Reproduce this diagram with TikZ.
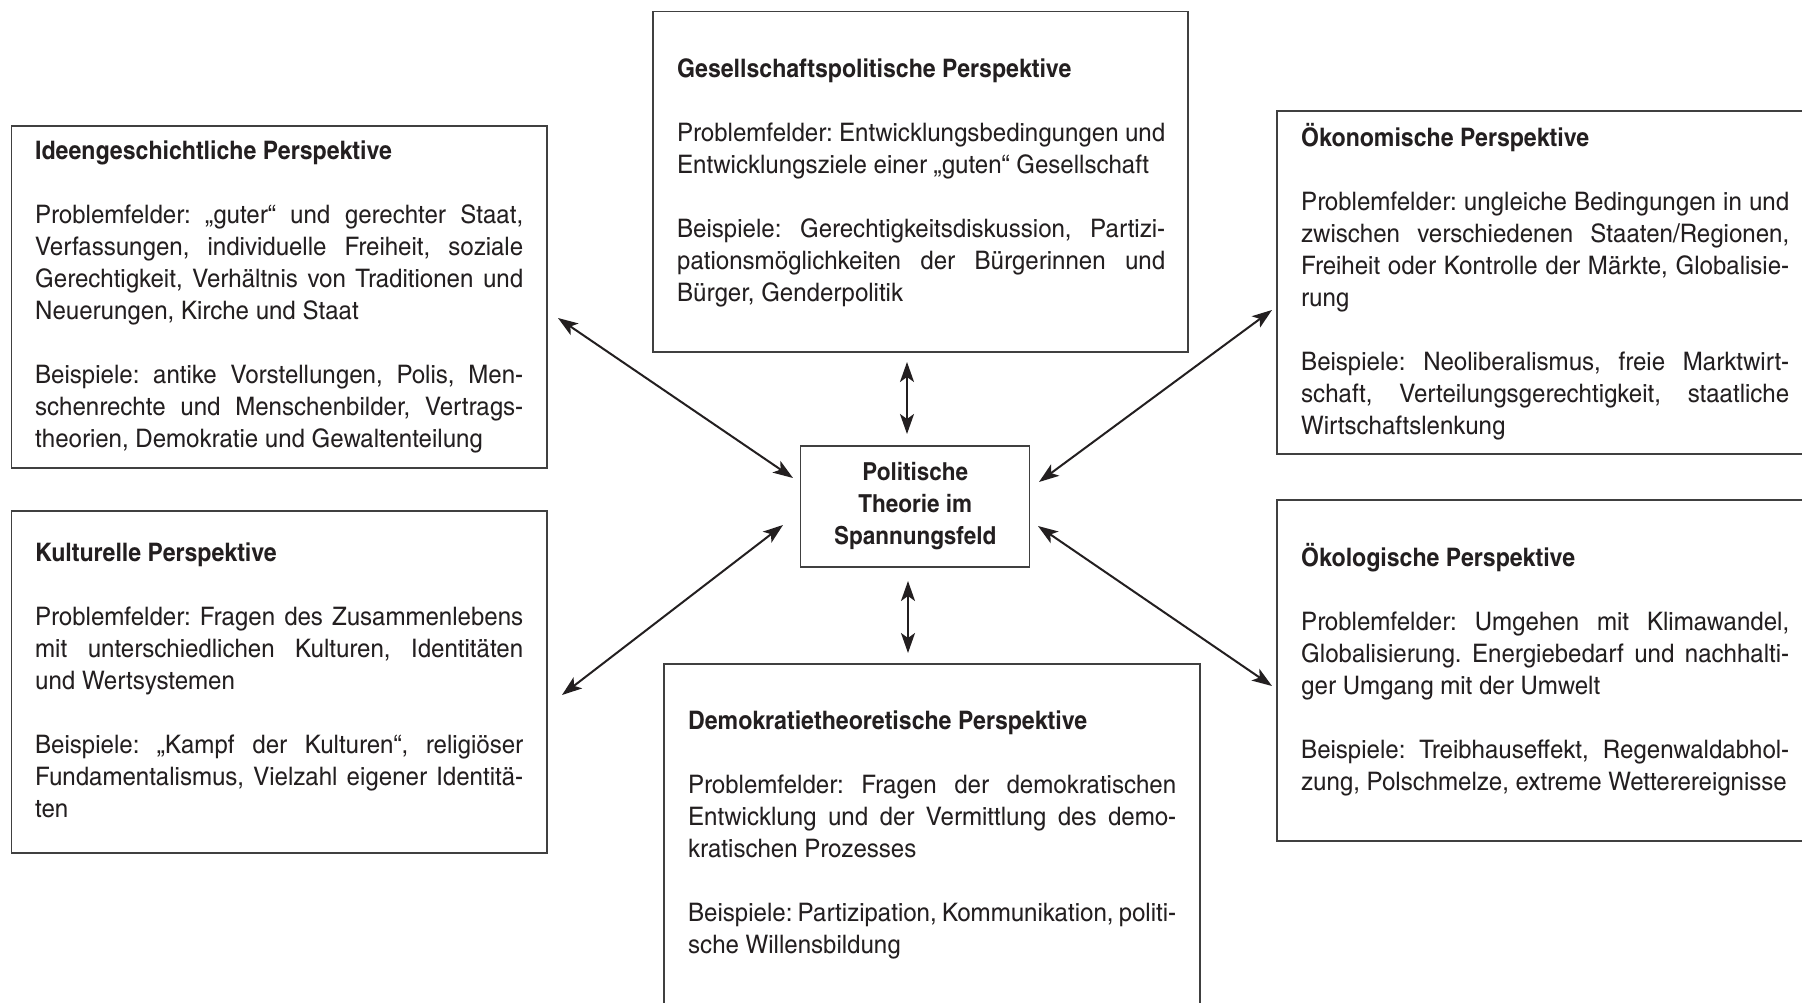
\documentclass[tikz,border=0pt]{standalone}
\usepackage{fontspec}
\setmainfont{texgyreheroscn-regular.otf}[UprightFeatures={FakeStretch=1.15}, BoldFont=texgyreheroscn-bold.otf, BoldFeatures={FakeStretch=1.105}]
\usetikzlibrary{arrows.meta}
\definecolor{ink}{HTML}{231F20}
\definecolor{frame}{HTML}{404040}
\tolerance=10000
\hbadness=10000
\frenchspacing
\newcommand{\bodyfont}{\fontsize{25.5}{32}\selectfont\setlength{\parindent}{0pt}\frenchspacing}
\newcommand{\centerfont}{\fontsize{24.8}{32}\selectfont\bfseries}
\tikzset{
  box/.style={draw=frame, line width=1.4pt, inner sep=0pt, fill=none},
  bodytext/.style={anchor=base west, inner sep=0pt, text width=488pt, align=justify, text=ink, font=\bodyfont},
  centertext/.style={draw=frame, line width=1.4pt, inner sep=0pt, align=center, text=ink, font=\centerfont},
  link/.style={draw=ink, line width=2pt, {Stealth[length=20pt,width=14pt,inset=5pt]}-{Stealth[length=20pt,width=14pt,inset=5pt]}}
}
\newcommand{\gap}{\par\vskip32pt}
\begin{document}
\begin{tikzpicture}[x=1pt,y=-1pt]
\fill[white] (0,0) rectangle (1802,1002);
\clip (0,0) rectangle (1802,1002);
% boxes
\node[box, minimum width=535.5pt, minimum height=342pt] (b1) at (279.25,297) {};
\node[box, minimum width=535pt, minimum height=340.5pt] (b2) at (920.5,181.75) {};
\node[box, minimum width=536pt, minimum height=343pt] (b3) at (1545,282.5) {};
\node[box, minimum width=535.5pt, minimum height=342pt] (b4) at (279.25,682) {};
\node[box, minimum width=536pt, minimum height=346pt] (b5) at (932,837) {};
\node[box, minimum width=536pt, minimum height=341pt] (b6) at (1545,670.5) {};
\node[centertext, minimum width=229pt, minimum height=121pt] (c) at (915.2,506.5) {Politische\\Theorie im\\Spannungsfeld};
% texts
\node[bodytext] (t1) at (35,159.5) {\textbf{Ideengeschichtliche Perspektive}\gap
Problemfelder: „guter“ und gerechter Staat,\linebreak Verfassungen, individuelle Freiheit, soziale\linebreak Gerechtigkeit, Verhältnis von Traditionen und\linebreak Neuerungen, Kirche und Staat\gap
Beispiele: antike Vorstellungen, Polis, Men-\linebreak schenrechte und Menschenbilder, Vertrags-\linebreak theorien, Demokratie und Gewaltenteilung};
\node[bodytext] (t2) at (677,77) {\textbf{Gesellschaftspolitische Perspektive}\gap
Problemfelder: Entwicklungsbedingungen und\linebreak Entwicklungsziele einer „guten“ Gesellschaft\gap
Beispiele: Gerechtigkeitsdiskussion, Partizi-\linebreak pationsmöglichkeiten der Bürgerinnen und\linebreak Bürger, Genderpolitik};
\node[bodytext] (t3) at (1301,146) {\textbf{Ökonomische Perspektive}\gap
Problemfelder: ungleiche Bedingungen in und\linebreak zwischen verschiedenen Staaten/Regionen,\linebreak Freiheit oder Kontrolle der Märkte, Globalisie-\linebreak rung\gap
Beispiele: Neoliberalismus, freie Marktwirt-\linebreak schaft, Verteilungsgerechtigkeit, staatliche\linebreak Wirtschaftslenkung};
\node[bodytext] (t4) at (35,561) {\textbf{Kulturelle Perspektive}\gap
Problemfelder: Fragen des Zusammenlebens\linebreak mit unterschiedlichen Kulturen, Identitäten\linebreak und Wertsystemen\gap
Beispiele: „Kampf der Kulturen“, religiöser\linebreak Fundamentalismus, Vielzahl eigener Identitä-\linebreak ten};
\node[bodytext] (t5) at (688,729.5) {\textbf{Demokratietheoretische Perspektive}\gap
Problemfelder: Fragen der demokratischen\linebreak Entwicklung und der Vermittlung des demo-\linebreak kratischen Prozesses\gap
Beispiele: Partizipation, Kommunikation, politi-\linebreak sche Willensbildung};
\node[bodytext] (t6) at (1301,566.5) {\textbf{Ökologische Perspektive}\gap
Problemfelder: Umgehen mit Klimawandel,\linebreak Globalisierung. Energiebedarf und nachhalti-\linebreak ger Umgang mit der Umwelt\gap
Beispiele: Treibhauseffekt, Regenwaldabhol-\linebreak zung, Polschmelze, extreme Wetterereignisse};
% arrow end points
\coordinate (p1a) at (558,318);  \coordinate (p1b) at (793,478);
\coordinate (p4a) at (562,695);  \coordinate (p4b) at (783,525);
\coordinate (p3a) at (1272,310); \coordinate (p3b) at (1039,482);
\coordinate (p6a) at (1272,686); \coordinate (p6b) at (1038,526);
\coordinate (p2a) at (907,362);  \coordinate (p2b) at (907,434);
\coordinate (p5a) at (908,581);  \coordinate (p5b) at (908,653);
\draw[link] (p1a) -- (p1b);
\draw[link] (p4a) -- (p4b);
\draw[link] (p3a) -- (p3b);
\draw[link] (p6a) -- (p6b);
\draw[link] (p2a) -- (p2b);
\draw[link] (p5a) -- (p5b);
\end{tikzpicture}
\end{document}
